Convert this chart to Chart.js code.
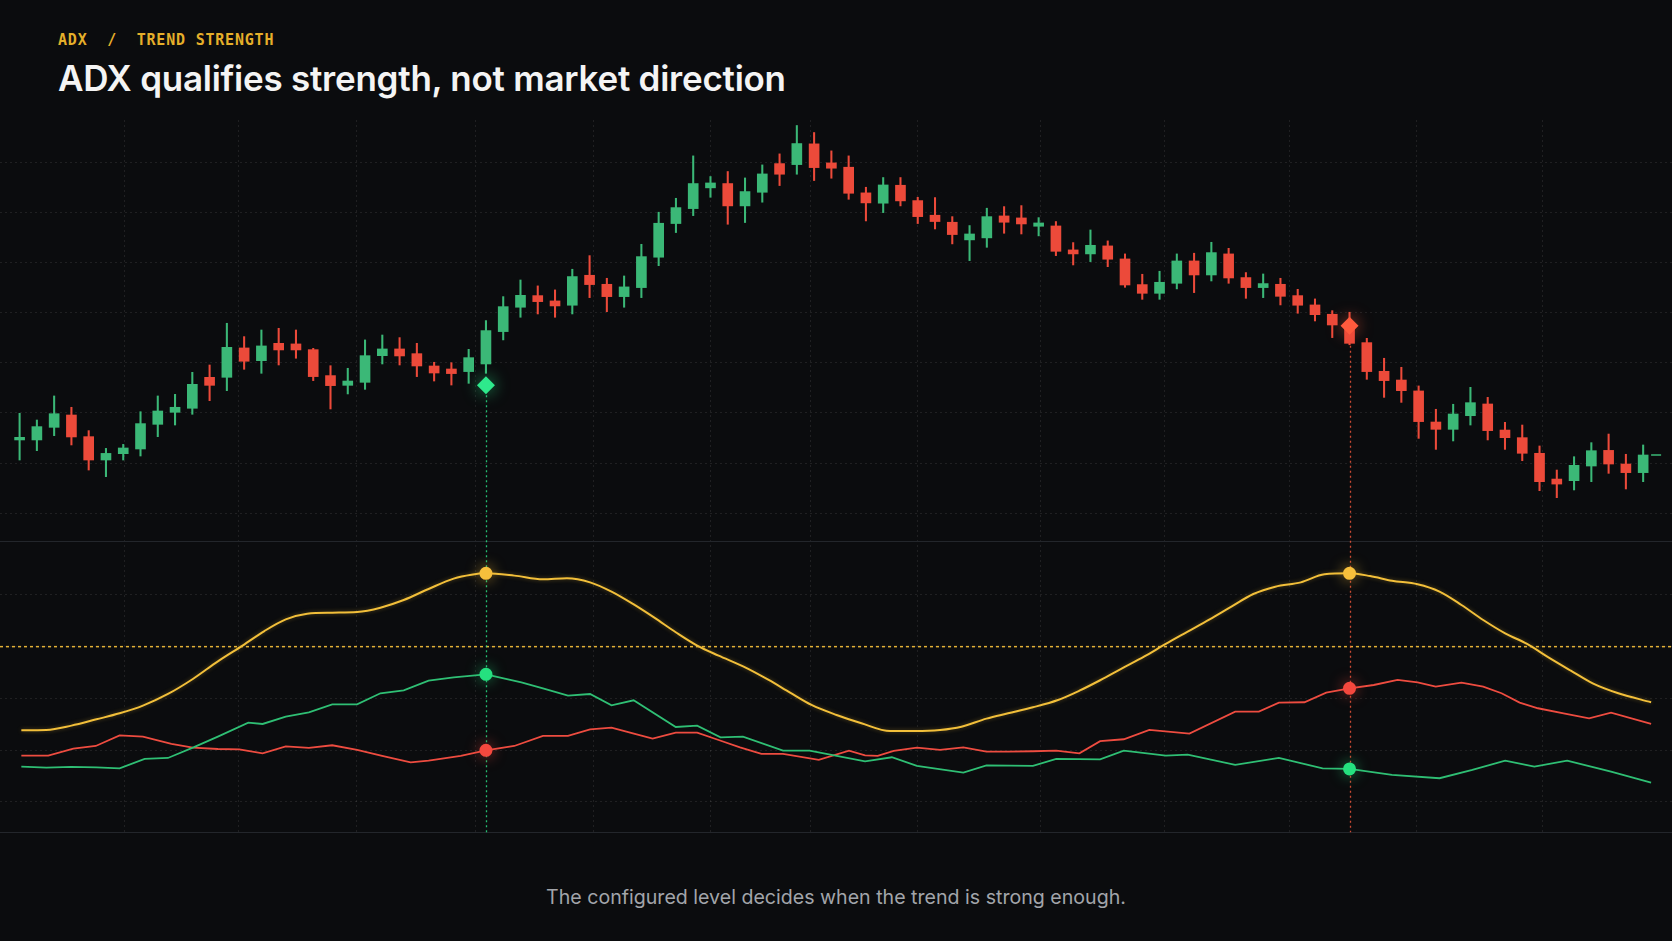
<!DOCTYPE html>
<html>
<head>
<meta charset="utf-8">
<title>ADX trend strength</title>
<script src="https://cdn.jsdelivr.net/npm/chart.js@4.4.1/dist/chart.umd.min.js"></script>
<style>
  html, body { margin: 0; padding: 0; background: #0b0c0e; width: 1672px; height: 941px; overflow: hidden; }
  .kicker { position: absolute; left: 58px; top: 31px; line-height: 20px; font: bold 15px "DejaVu Sans Mono", monospace; color: #e5af2a; letter-spacing: 0.8px; white-space: pre; }
  h1 { position: absolute; left: 58px; top: 56px; margin: 0; line-height: 44px; font-family: Inter, sans-serif; font-weight: 600; font-size: 35px; color: #f4f4f4; letter-spacing: -0.25px; }
  #wrap { position: absolute; left: 0; top: 120px; width: 1672px; height: 714px; }
  .foot { position: absolute; left: 0; top: 884px; width: 1672px; text-align: center; line-height: 26px; font-family: Inter, sans-serif; font-size: 19.6px; color: #a2a5aa; }
</style>
</head>
<body>
<div class="kicker">ADX  /  TREND STRENGTH</div>
<h1>ADX qualifies strength, not market direction</h1>
<div id="wrap"><canvas id="adxChart"></canvas></div>
<div class="foot">The configured level decides when the trend is strong enough.</div>

<script>
// price candles, one per session
const opens  = [107.30, 107.30, 108.56, 109.79, 107.63, 105.30, 105.93, 106.40, 108.86, 110.06,
                110.46, 113.55, 113.55, 116.48, 115.21, 116.94, 116.88, 116.31, 113.72, 112.75,
                113.05, 115.71, 116.38, 115.91, 114.68, 114.38, 114.12, 114.88, 118.11, 120.54,
                121.70, 121.17, 120.74, 123.73, 122.83, 121.60, 122.50, 125.53, 128.89, 130.38,
                132.45, 132.88, 130.65, 132.01, 134.87, 134.77, 136.84, 134.94, 134.51, 131.95,
                130.92, 132.71, 131.18, 129.72, 129.02, 127.26, 127.46, 129.65, 129.45, 128.62,
                128.65, 126.26, 125.86, 126.66, 125.36, 122.80, 121.93, 122.93, 125.16, 123.76,
                125.86, 123.50, 122.50, 122.83, 121.70, 120.77, 119.84, 118.44, 117.01, 114.15,
                113.28, 112.19, 109.09, 108.36, 109.72, 110.89, 108.29, 107.53, 105.97, 103.40,
                103.24, 104.70, 106.26, 104.90, 104.04];
const highs  = [109.96, 109.29, 111.69, 110.56, 108.23, 106.46, 106.86, 110.12, 111.69, 111.85,
                114.05, 114.78, 118.94, 117.61, 118.27, 118.44, 118.27, 116.44, 114.71, 114.45,
                117.28, 117.77, 117.51, 116.94, 115.05, 115.01, 116.34, 119.21, 121.60, 123.26,
                122.67, 122.27, 124.33, 125.69, 123.43, 123.66, 126.82, 130.02, 131.41, 135.64,
                133.58, 134.08, 133.44, 134.74, 135.84, 138.67, 137.97, 136.14, 135.64, 132.51,
                133.48, 133.48, 131.51, 131.48, 129.58, 128.69, 130.42, 130.58, 130.68, 129.48,
                129.09, 126.99, 128.25, 127.16, 125.86, 123.83, 124.13, 125.86, 125.93, 127.02,
                126.42, 124.00, 123.86, 123.43, 122.33, 121.37, 120.20, 120.04, 117.44, 115.45,
                114.55, 112.69, 110.36, 110.86, 112.55, 111.55, 109.06, 108.79, 106.70, 104.30,
                105.63, 107.03, 107.89, 105.87, 106.80];
const lows   = [105.30, 106.23, 107.73, 106.80, 104.30, 103.64, 105.30, 105.70, 107.63, 108.79,
                109.86, 111.22, 112.22, 114.35, 113.95, 114.78, 115.45, 113.22, 110.39, 111.89,
                112.35, 114.88, 114.78, 113.62, 113.18, 112.78, 112.95, 113.95, 117.28, 119.54,
                119.87, 119.54, 119.87, 121.50, 120.10, 120.54, 121.50, 124.69, 127.99, 129.68,
                131.51, 128.82, 128.99, 131.02, 132.68, 133.81, 133.18, 133.41, 131.31, 129.15,
                129.98, 130.65, 128.89, 128.35, 126.86, 125.19, 126.52, 127.92, 127.85, 127.66,
                125.69, 124.76, 125.09, 124.59, 122.53, 121.33, 121.33, 122.37, 122.00, 123.16,
                122.93, 121.43, 121.50, 120.77, 119.94, 119.17, 117.51, 116.80, 113.35, 111.55,
                111.05, 107.46, 106.36, 107.20, 108.79, 107.30, 106.36, 105.23, 102.24, 101.54,
                102.31, 103.14, 103.97, 102.41, 103.14];
const closes = [107.56, 108.63, 109.92, 107.60, 105.30, 105.96, 106.50, 108.93, 110.19, 110.56,
                112.85, 112.75, 116.54, 115.15, 116.68, 116.28, 116.28, 113.62, 112.72, 113.18,
                115.71, 116.38, 115.68, 114.68, 113.98, 113.92, 115.51, 118.21, 120.60, 121.73,
                121.10, 120.67, 123.60, 122.80, 121.60, 122.57, 125.59, 128.92, 130.48, 132.88,
                132.94, 130.65, 132.08, 133.84, 133.81, 136.87, 134.47, 134.41, 131.91, 130.95,
                132.74, 131.15, 129.58, 129.09, 127.79, 127.85, 129.58, 129.02, 128.85, 128.95,
                126.12, 125.86, 126.72, 125.33, 122.76, 121.93, 123.03, 125.16, 123.76, 125.99,
                123.46, 122.50, 122.90, 121.63, 120.74, 119.80, 118.77, 116.94, 114.12, 113.22,
                112.22, 109.13, 108.36, 109.89, 111.02, 108.23, 107.53, 105.97, 103.14, 102.90,
                104.77, 106.23, 104.90, 104.04, 105.80];

// indicator lines, read as (session position, value) vertices
const adxX   = [0.1, 1.55, 3.0, 4.45, 5.79, 7.14, 8.59, 10.03, 11.48, 12.93, 14.17, 15.41, 16.65, 18.10,
                19.54, 20.89, 22.24, 23.68, 25.13, 26.16, 27, 28.64, 30.3, 31.69, 33.03, 34.27, 35.51,
                36.75, 37.99, 39.23, 40.47, 41.92, 43.37, 44.61, 45.85, 47.30, 48.74, 50.40, 51.85,
                53.29, 54.53, 55.98, 57.23, 58.67, 60.12, 61.36, 62.56, 63.83, 65.10, 66.36, 67.63,
                68.90, 70.16, 71.43, 72.70, 74.18, 75.55, 77, 78.19, 79.46, 80.94, 82.21, 83.48,
                84.74, 86.01, 87.28, 88.54, 89.81, 91.08, 92.56, 94.46];
const adxVal = [16.91, 16.94, 17.36, 17.97, 18.55, 19.29, 20.42, 21.87, 23.58, 25.13, 26.51, 27.64, 28.19,
                28.29, 28.35, 28.77, 29.51, 30.58, 31.58, 31.96, 32.09, 31.87, 31.51, 31.61, 31.22, 30.32,
                29.13, 27.80, 26.39, 25.10, 24.13, 23.07, 21.78, 20.55, 19.36, 18.39, 17.59, 16.84, 16.84,
                16.94, 17.26, 18.04, 18.55, 19.13, 19.84, 20.74, 21.75, 22.90, 24.03, 25.26, 26.45, 27.64,
                28.87, 30.09, 30.80, 31.22, 32.00, 32.09, 31.83, 31.38, 31.03, 30.32, 29.03, 27.58, 26.29,
                25.26, 23.94, 22.68, 21.45, 20.49, 19.62];

const plusX   = [0.1, 1.55, 3.0, 4.45, 5.79, 7.24, 8.59, 10.03, 11.48, 13.24, 14.07, 15.41, 16.75, 18.10,
                 19.54, 20.89, 22.24, 23.68, 25.13, 27, 29.05, 30.30, 31.75, 33.03, 34.27, 35.55, 37.99,
                 39.23, 40.58, 41.88, 44.20, 45.74, 48.95, 50.50, 51.95, 54.64, 55.98, 58.67, 60.02,
                 62.56, 63.93, 66.36, 67.63, 70.38, 72.91, 75.44, 77, 79.46, 82.21, 84.11, 86.01, 87.70,
                 89.60, 92.14, 94.46];
const plusVal = [13.39, 13.30, 13.36, 13.33, 13.23, 14.14, 14.23, 15.23, 16.30, 17.65, 17.52, 18.23, 18.65,
                 19.42, 19.42, 20.49, 20.78, 21.71, 22.03, 22.32, 21.55, 20.97, 20.26, 20.42, 19.33, 19.81,
                 17.23, 17.36, 16.23, 16.30, 14.94, 14.94, 13.91, 14.30, 13.46, 12.81, 13.52, 13.46, 14.14,
                 14.10, 14.94, 14.46, 14.56, 13.56, 14.23, 13.23, 13.17, 12.59, 12.27, 13.07, 13.97, 13.39,
                 13.97, 12.91, 11.85];

const minusX   = [0.1, 1.66, 3.11, 4.41, 5.79, 7.14, 8.79, 10.03, 11.48, 12.72, 14.07, 15.41, 16.75, 18.10,
                  19.54, 20.99, 22.64, 23.68, 25.54, 27, 28.64, 30.30, 31.75, 33.03, 34.27, 35.51, 36.65,
                  37.99, 39.23, 40.47, 41.71, 42.95, 44.20, 46.27, 48.02, 48.95, 49.68, 50.61, 51.95,
                  53.29, 54.64, 55.98, 57.22, 58.67, 60.02, 61.36, 62.56, 63.93, 65.41, 67.73, 70.38,
                  71.75, 72.91, 74.39, 75.65, 77, 78.40, 79.78, 80.94, 81.99, 83.48, 84.74, 85.80, 86.85,
                  87.91, 89.39, 90.87, 92.14, 94.46];
const minusVal = [14.46, 14.46, 15.14, 15.39, 16.42, 16.30, 15.59, 15.23, 15.10, 15.07, 14.68, 15.36, 15.20,
                  15.46, 15.01, 14.43, 13.81, 13.97, 14.43, 14.97, 15.39, 16.36, 16.36, 17.00, 17.17, 16.62,
                  16.10, 16.68, 16.68, 15.97, 15.26, 14.62, 14.62, 14.04, 14.94, 14.49, 14.43, 14.91, 15.23,
                  15.01, 15.26, 14.85, 14.85, 14.88, 14.94, 14.68, 15.86, 16.04, 16.94, 16.59, 18.71, 18.71,
                  19.58, 19.62, 20.55, 20.97, 21.29, 21.78, 21.55, 21.13, 21.52, 21.13, 20.49, 19.58, 19.04,
                  18.55, 18.07, 18.62, 17.52];

// gridline positions and levels
const xGridTicks = [6.1, 12.7, 19.5, 26.4, 33.2, 40.0, 45.8, 52.0, 59.1, 66.3, 73.5, 80.9, 88.2];
const priceTicks = [100, 105, 110, 115, 120, 125, 130, 135];
const adxTicks   = [10, 15, 20, 25, 30];
const adxLevel   = 25;

// entry signals: session and marker price
const signalIdx   = [27, 77];
const signalPrice = [112.75, 118.7];

const GREEN = '#3bb877';
const RED = '#ec4a3a';
const YELLOW = '#f2bf3a';
const DI_GREEN = '#2fbf74';
const DI_RED = '#ee4c40';
const SIG_COLORS = ['#2ee98c', '#ff5a3d'];
const SIG_GLOW = ['rgba(46,233,140,0.65)', 'rgba(255,90,61,0.7)'];
const GRID = 'rgba(255,255,255,0.085)';

const pts = (xs, ys) => xs.map((x, i) => ({ x: x, y: ys[i] }));
const valAt = (xs, ys, x) => ys[xs.indexOf(x)];
const candleColors = opens.map((o, i) => closes[i] >= o ? GREEN : RED);
const last = closes.length - 1;

// glow for markers
const glowPlugin = {
  id: 'glow',
  beforeDatasetDraw(chart, args) {
    const ds = chart.data.datasets[args.index];
    if (!ds.glow) return;
    chart.ctx.save();
    chart.ctx.shadowColor = ds.glow;
    chart.ctx.shadowBlur = ds.glowBlur || 14;
  },
  afterDatasetDraw(chart, args) {
    if (chart.data.datasets[args.index].glow) chart.ctx.restore();
  }
};

// pane separators, ADX level and signal drop lines
const panesPlugin = {
  id: 'panes',
  beforeDatasetsDraw(chart) {
    const { ctx, chartArea } = chart;
    const { x, yPrice, yAdx } = chart.scales;
    ctx.save();
    ctx.lineWidth = 1;
    ctx.strokeStyle = '#23262b';
    [yPrice.bottom, yAdx.bottom].forEach(y => {
      ctx.beginPath();
      ctx.moveTo(chartArea.left, Math.round(y) + 0.5);
      ctx.lineTo(chartArea.right, Math.round(y) + 0.5);
      ctx.stroke();
    });

    const ly = yAdx.getPixelForValue(adxLevel);
    ctx.strokeStyle = '#e3b136';
    ctx.lineWidth = 1.5;
    ctx.setLineDash([3, 3]);
    ctx.beginPath();
    ctx.moveTo(chartArea.left, ly);
    ctx.lineTo(chartArea.right, ly);
    ctx.stroke();

    ctx.lineWidth = 1.3;
    ctx.setLineDash([2, 3]);
    signalIdx.forEach((s, i) => {
      const px = Math.round(x.getPixelForValue(s)) + 0.5;
      ctx.strokeStyle = SIG_COLORS[i];
      ctx.globalAlpha = 0.8;
      ctx.beginPath();
      ctx.moveTo(px, yPrice.getPixelForValue(signalPrice[i]));
      ctx.lineTo(px, yAdx.bottom);
      ctx.stroke();
    });
    ctx.restore();
  }
};

const signalSets = signalIdx.map((s, i) => ({
  type: 'line',
  label: 'signal ' + s,
  data: [{ x: s, y: signalPrice[i] }],
  showLine: false,
  pointStyle: 'rectRot',
  pointRadius: 9,
  backgroundColor: SIG_COLORS[i],
  borderWidth: 0,
  yAxisID: 'yPrice',
  glow: SIG_GLOW[i],
  glowBlur: 16,
  order: 0
}));

const ctx = document.getElementById('adxChart').getContext('2d');
const chart = new Chart(ctx, {
  type: 'bar',
  data: {
    datasets: [
      {
        label: 'wicks',
        data: opens.map((o, i) => ({ x: i, y: [lows[i], highs[i]] })),
        backgroundColor: candleColors,
        barThickness: 1.4,
        grouped: false,
        yAxisID: 'yPrice',
        order: 5
      },
      {
        label: 'bodies',
        data: opens.map((o, i) => ({ x: i, y: [o, closes[i]] })),
        backgroundColor: candleColors,
        barThickness: 10,
        grouped: false,
        yAxisID: 'yPrice',
        order: 4
      },
      {
        type: 'line',
        label: 'last',
        data: [{ x: last + 0.75, y: closes[last] }],
        showLine: false,
        pointStyle: 'line',
        pointRadius: 5,
        borderColor: GREEN,
        borderWidth: 1.5,
        yAxisID: 'yPrice',
        order: 3
      },
      {
        type: 'line',
        label: '+DI',
        data: pts(plusX, plusVal),
        borderColor: DI_GREEN,
        borderWidth: 1.8,
        pointRadius: 0,
        tension: 0,
        yAxisID: 'yAdx',
        order: 3
      },
      {
        type: 'line',
        label: '-DI',
        data: pts(minusX, minusVal),
        borderColor: DI_RED,
        borderWidth: 1.8,
        pointRadius: 0,
        tension: 0,
        yAxisID: 'yAdx',
        order: 3
      },
      {
        type: 'line',
        label: 'ADX',
        data: pts(adxX, adxVal),
        borderColor: YELLOW,
        borderWidth: 2,
        pointRadius: 0,
        cubicInterpolationMode: 'monotone',
        yAxisID: 'yAdx',
        glow: 'rgba(242,191,58,0.35)',
        glowBlur: 4,
        order: 2
      },
      ...signalSets,
      {
        type: 'line',
        label: 'adx marks',
        data: signalIdx.map(s => ({ x: s, y: valAt(adxX, adxVal, s) })),
        showLine: false,
        pointRadius: 6.5,
        backgroundColor: '#f6bf3c',
        borderWidth: 0,
        yAxisID: 'yAdx',
        glow: 'rgba(246,191,60,0.6)',
        order: 0
      },
      {
        type: 'line',
        label: 'plus marks',
        data: signalIdx.map(s => ({ x: s, y: valAt(plusX, plusVal, s) })),
        showLine: false,
        pointRadius: 6.5,
        backgroundColor: '#25e07f',
        borderWidth: 0,
        yAxisID: 'yAdx',
        glow: 'rgba(37,224,127,0.6)',
        order: 0
      },
      {
        type: 'line',
        label: 'minus marks',
        data: signalIdx.map(s => ({ x: s, y: valAt(minusX, minusVal, s) })),
        showLine: false,
        pointRadius: 6.5,
        backgroundColor: '#f5483e',
        borderWidth: 0,
        yAxisID: 'yAdx',
        glow: 'rgba(245,72,62,0.6)',
        order: 0
      }
    ]
  },
  options: {
    responsive: true,
    maintainAspectRatio: false,
    animation: false,
    events: [],
    layout: { autoPadding: false, padding: { top: 0, left: 0, right: 0, bottom: 1.7 } },
    plugins: {
      legend: { display: false },
      tooltip: { enabled: false }
    },
    scales: {
      x: {
        type: 'linear',
        min: -1.135,
        max: 95.67,
        offset: false,
        grid: { color: GRID, offset: false, drawTicks: false },
        border: { display: false, dash: [2, 3] },
        ticks: { display: false },
        afterBuildTicks: s => { s.ticks = xGridTicks.map(v => ({ value: v })); }
      },
      yAdx: {
        type: 'linear',
        position: 'left',
        stack: 'panes',
        stackWeight: 291.3,
        weight: 1,
        min: 7.04,
        max: 35.22,
        grid: { color: GRID, drawTicks: false },
        border: { display: false, dash: [2, 3] },
        ticks: { display: false },
        afterBuildTicks: s => { s.ticks = adxTicks.map(v => ({ value: v })); }
      },
      yPrice: {
        type: 'linear',
        position: 'left',
        stack: 'panes',
        stackWeight: 421,
        weight: 2,
        min: 97.22,
        max: 139.22,
        grid: { color: GRID, drawTicks: false },
        border: { display: false, dash: [2, 3] },
        ticks: { display: false },
        afterBuildTicks: s => { s.ticks = priceTicks.map(v => ({ value: v })); }
      }
    }
  },
  plugins: [panesPlugin, glowPlugin]
});
</script>
</body>
</html>
